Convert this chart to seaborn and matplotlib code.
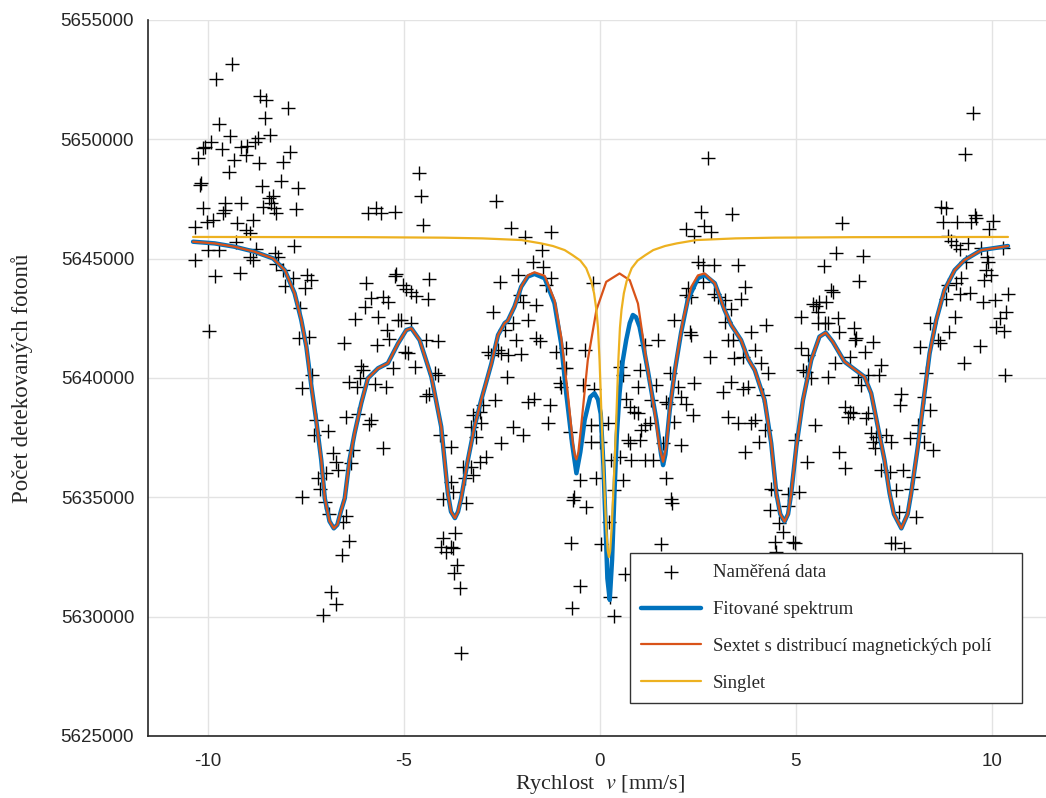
import numpy as np
import pandas as pd
import matplotlib
matplotlib.use('Agg')
import matplotlib.pyplot as plt
import seaborn as sns

# measured Mossbauer spectrum (velocity in mm/s, detected photon counts)
velocity = [
    -9.39, -9.80, -8.66, -8.51, -7.96, -8.54, -9.72, -9.44, -8.41, -9.92,
    -10.07, -10.13, -9.64, -9.15, -9.00, -8.81, -8.72, -7.92, -10.26, -9.34,
    -9.02, -8.70, -8.09, -9.47, -8.13, -10.21, -10.19, -8.61, -7.70, -8.34,
    -8.45, -8.38, -8.60, -8.32, -8.26, -9.56, -9.56, -9.62, -9.15, -10.13,
    -7.76, -10.34, -10.02, -9.87, -9.25, -8.85, -9.02, -8.94, -5.92, -5.71,
    -5.59, -5.22, -4.62, -4.57, -4.51, -9.29, -10.00, -9.72, -7.81, -8.77,
    -8.92, -8.30, -8.21,
    -2.66, -2.26, -1.90, -1.24, -1.47, 2.76, 2.58, 3.37, 2.19, 2.40, 2.65, 2.84,
    9.53, 9.32, 6.18, 8.71, 8.82, 8.75, 9.11, 9.46, 9.56, 9.60,
    10.03, 9.92, 8.88, 8.96, 9.09, 9.18, 9.39, 9.73, 10.28, 6.01,
    6.71, 9.88,
    -10.34, -9.83, -9.19, -9.975, -8.85, -8.26, -8.09, -7.83, -8.03, -7.47,
    -7.37, -7.53, -7.64, -7.69, -7.43, -7.35, -7.60, -7.24, -7.30, -6.94,
    -6.81, -6.73, -6.68, -7.19, -6.98, -7.14, -7.60, -6.47, -6.16, -5.85,
    -5.88, -5.54, -6.30, -6.35, -6.53, -6.24, -5.96, -6.00, -5.85, -5.54,
    -5.41, -5.66, -5.44, -5.37, -5.68, -5.24, -5.20, -5.03, -4.94, -4.81,
    -4.69, -4.39, -4.35, -5.15, -5.07, -4.81, -4.98, -4.90, -4.73, -4.43,
    -4.13, -6.09, -6.05, -6.13, -6.19, -6.41, -5.75, -5.45, -5.28, -4.22,
    -4.13, -4.43, -4.35, -4.09, -4.01,
    -1.71, -1.45, -2.09, -2.56, -1.24, -1.37, -2.05, -1.96, -1.62, -2.73,
    -2.22, -1.84, -2.43, -2.13, -1.62, -1.54, -2.86, -2.77, -2.60, -2.52,
    -2.35, -2.01, -1.11, -0.86, -0.39, -0.18, -0.94, -0.86, -2.36, -1.03,
    -0.99, -0.43, -0.14, -2.69, -2.99, -3.07, -3.24, -3.03, -1.84, -1.68,
    -1.28, -1.33, -2.22, -1.96, -2.52, -3.15, -3.28, -2.90, -3.07, -3.28,
    -3.50, -3.24, -3.45, -3.79, -3.79, -3.75, -0.77, -0.22, -0.01, 0.20,
    -0.22, -0.01, -0.65, -0.52, -0.09, 0.29, 0.50, 0.59, 0.37, 0.50,
    0.59, 1.01, 0.97, 1.44, 1.48, 1.14, 0.67, 0.76, 0.88, 0.97,
    0.71, 0.76, 1.01, 0.80, 1.14, 1.35, 1.14, 1.27, 1.05, 1.31,
    1.69, 1.73, 1.61, 1.69, 1.82, 1.99, 2.07, 2.20, 2.37, 1.90,
    2.07, 1.78, 1.90, 2.41, 2.31, 2.33, 2.33, 2.24, 2.20, 2.63,
    2.50, 2.63, 2.92, 3.52, 2.92, 3.01, 3.18, 3.35, 3.60, 3.69,
    3.18, 3.26, 3.39, 3.43, 3.65, 2.80, 3.35, 3.14, 3.65, 3.26,
    3.52, 3.69,
    5.71, 6.62, 5.90, 5.94, 5.43, 5.52, 5.60, 5.77, 5.56, 5.14,
    4.24, 3.86, 5.56, 5.73, 5.82, 6.07, 6.11, 6.48, 6.54, 6.50,
    6.96, 6.75, 5.14, 5.31, 6.37, 5.99, 7.18, 7.13, 3.95, 4.12,
    4.29, 5.18, 5.26, 5.39, 5.82, 6.58, 6.67, 6.84, 3.78, 4.16,
    7.69, 7.65, 6.24, 6.37, 6.45, 6.33, 6.84, 6.79, 8.41, 3.95,
    3.86, 4.20, 4.07, 4.97, 5.48, 6.92, 7.05, 6.96, 7.01, 7.30,
    7.43, 7.90, 8.11, 8.11, 8.28, 8.50, 6.11, 6.24, 5.29, 7.18,
    7.39, 7.73, 7.99, 7.56, 7.94, 4.37, 4.46, 5.09, 4.80, 8.88,
    9.09, 9.22, 9.43, 9.18, 8.84, 9.81, 9.98, 9.86, 9.90, 9.35,
    9.77, 10.07, 10.41, 10.37, 10.20, 10.11, 10.32, 9.05, 8.90, 8.62,
    8.67, 8.41, 8.16, 9.69, 9.29, 10.34, 8.33, 8.28,
    -7.02, -6.90, -6.47, -6.56, -6.39, -6.57, -6.87, -6.73, -7.07, -4.01,
    -4.05, -3.92,
    -3.41, -3.69, -3.79, -3.75, -3.64, -3.72, -3.58, -3.55, -0.35, -0.75,
    -0.50, -0.71, 0.02, 0.23, 0.63, 0.26, 0.36, 1.84, 1.55, -0.69,
    4.33, 4.80, 4.58, 4.67, 4.46, 4.92, 4.97, 4.50, 7.64, 8.07,
    7.43, 7.52, 7.77,
]
counts = [
    5653140, 5652520, 5651820, 5651650, 5651330, 5650880, 5650630, 5650150, 5650180, 5649900,
    5649690, 5649620, 5649580, 5649690, 5649720, 5649900, 5650070, 5649480, 5649230, 5649130,
    5649340, 5649020, 5649040, 5648640, 5648250, 5648090, 5648160, 5648060, 5647950, 5647640,
    5647530, 5647320, 5647180, 5647110, 5646900, 5647350, 5647040, 5646930, 5647320, 5647140,
    5647080, 5646310, 5646550, 5646620, 5646510, 5646620, 5646200, 5646060, 5646930, 5647110,
    5646900, 5646970, 5648580, 5647630, 5646420, 5645710, 5645360, 5645360, 5645530, 5645390,
    5645060, 5645220, 5645060,
    5647420, 5646270, 5645920, 5646130, 5645360, 5649230, 5646940, 5646870, 5646230, 5645950, 5646380, 5646130,
    5651120, 5649390, 5646480, 5647150, 5647140, 5646550, 5646550, 5646520, 5646830, 5646690,
    5646590, 5646230, 5645950, 5645750, 5645570, 5645390, 5645670, 5645430, 5645460, 5645220,
    5645110, 5645060,
    5644940, 5644280, 5644380, 5641960, 5644940, 5644770, 5644520, 5644170, 5643850, 5644310,
    5644100, 5643750, 5642940, 5641660, 5641700, 5640120, 5639600, 5638230, 5637610, 5637790,
    5636840, 5636490, 5636140, 5635790, 5636000, 5635330, 5635000, 5638370, 5638490, 5638260,
    5638070, 5637050, 5637000, 5636420, 5641450, 5642470, 5643990, 5642980, 5643360, 5643400,
    5643190, 5642570, 5642010, 5641620, 5641380, 5644270, 5644350, 5643890, 5643710, 5643610,
    5643430, 5643330, 5644130, 5642430, 5642450, 5642310, 5641100, 5641030, 5640440, 5641590,
    5641560, 5640500, 5640330, 5639980, 5639630, 5639840, 5639740, 5639630, 5640400, 5640190,
    5640120, 5639240, 5639350, 5637610, 5634950,
    5644870, 5644660, 5644310, 5644030, 5644170, 5643890, 5643470, 5643190, 5643050, 5642770,
    5642290, 5642430, 5642010, 5641590, 5641660, 5641560, 5641100, 5640960, 5641170, 5641030,
    5640960, 5641000, 5641100, 5641240, 5641170, 5643960, 5640400, 5640400, 5640050, 5639770,
    5639630, 5639700, 5639560, 5639070, 5638860, 5638580, 5638440, 5638100, 5639000, 5639140,
    5638860, 5638100, 5637960, 5637610, 5637280, 5637540, 5637960, 5636700, 5636490, 5636280,
    5636280, 5635930, 5635790, 5637120, 5635650, 5635230, 5637750, 5638030, 5638030, 5638100,
    5637330, 5637330, 5635020, 5635720, 5635790, 5636560, 5636700, 5635720, 5635300, 5640470,
    5640120, 5640330, 5639630, 5639700, 5641590, 5641380, 5639140, 5638790, 5638580, 5638520,
    5637400, 5637260, 5637400, 5636560, 5636560, 5636560, 5638030, 5638100, 5637820, 5639070,
    5639000, 5638930, 5637260, 5635790, 5634950, 5639630, 5639210, 5638930, 5638440, 5638170,
    5637190, 5640190, 5642430, 5639800, 5641940, 5641800, 5643400, 5643750, 5643470, 5644030,
    5644870, 5644730, 5644730, 5644730, 5643540, 5643400, 5643260, 5642910, 5643330, 5643820,
    5642360, 5641590, 5641590, 5640820, 5640890, 5640890, 5639840, 5639420, 5639560, 5638380,
    5638100, 5636910,
    5644690, 5644060, 5643680, 5643610, 5643120, 5643010, 5643190, 5643190, 5642770, 5642570,
    5642240, 5641940, 5642290, 5642290, 5642290, 5642500, 5641940, 5642080, 5641660, 5641590,
    5641520, 5641100, 5641240, 5640960, 5640860, 5640610, 5640540, 5640120, 5641170, 5640610,
    5640190, 5640330, 5640260, 5639980, 5640050, 5640050, 5639700, 5640120, 5639630, 5639280,
    5639350, 5638860, 5638790, 5638580, 5638520, 5638380, 5638520, 5638310, 5638650, 5638240,
    5638100, 5637820, 5637330, 5637400, 5638030, 5637680, 5637540, 5637330, 5637050, 5637610,
    5637330, 5637470, 5638030, 5637680, 5637330, 5636980, 5636910, 5636210, 5636490, 5636140,
    5636070, 5636140, 5635860, 5635300, 5635330, 5635370, 5635300, 5635230, 5635160, 5643890,
    5643960, 5644170, 5643580, 5643540, 5643330, 5644100, 5644310, 5644520, 5644870, 5644870,
    5643190, 5643260, 5643540, 5642770, 5642500, 5642150, 5641980, 5642570, 5641940, 5641590,
    5641450, 5642290, 5641280, 5641340, 5640640, 5640120, 5640190, 5639210,
    5634820, 5634300, 5634220, 5633980, 5633190, 5632590, 5631050, 5630520, 5630070, 5633280,
    5632930, 5632720,
    5634750, 5633520, 5632930, 5632860, 5632170, 5631840, 5631190, 5628460, 5634580, 5633070,
    5631290, 5630350, 5633050, 5633980, 5631790, 5630810, 5630030, 5634750, 5633050, 5634890,
    5634470, 5634640, 5633910, 5633560, 5633140, 5633140, 5633100, 5632720, 5634400, 5634190,
    5633100, 5633100, 5632860,
]

# fitted spectrum
fit_v = [-10.38, -9.83, -9.32, -8.81, -8.34, -8.04, -7.79, -7.62, -7.49, -7.36,
         -7.24, -7.11, -7.02, -6.90, -6.79, -6.70, -6.60, -6.51, -6.39, -6.26,
         -6.09, -5.92, -5.66, -5.41, -5.15, -4.94, -4.81, -4.60, -4.30, -4.05,
         -3.88, -3.80, -3.70, -3.62, -3.54, -3.37, -3.20, -3.03, -2.77, -2.60,
         -2.43, -2.35, -2.18, -2.01, -1.84, -1.67, -1.41, -1.16, -0.99, -0.86,
         -0.71, -0.60, -0.50, -0.39, -0.25, -0.14, -0.05, 0.02, 0.09, 0.14,
         0.19, 0.25, 0.31, 0.37, 0.43, 0.50, 0.58, 0.67, 0.76, 0.84,
         0.92, 1.01, 1.10, 1.22, 1.44, 1.56, 1.61, 1.67, 1.78, 1.91,
         2.07, 2.24, 2.50, 2.67, 2.93, 3.18, 3.35, 3.60, 3.78, 3.95,
         4.20, 4.37, 4.50, 4.60, 4.71, 4.80, 4.88, 5.01, 5.18, 5.39,
         5.60, 5.76, 5.94, 6.24, 6.58, 6.75, 6.92, 7.09, 7.26, 7.39,
         7.50, 7.69, 7.85, 7.94, 8.11, 8.28, 8.41, 8.58, 8.79, 9.05,
         9.30, 9.73, 10.41]
fit_n = [5645710, 5645640, 5645500, 5645290, 5645010, 5644520, 5643550, 5642430, 5641310, 5639640,
         5638240, 5636560, 5634960, 5634000, 5633700, 5633850, 5634470, 5634960, 5636560, 5637680,
         5638940, 5639990, 5640410, 5640620, 5641450, 5642010, 5642080, 5641590, 5640050, 5637960,
         5635180, 5634400, 5634130, 5634400, 5634960, 5636560, 5637960, 5639070, 5640600, 5641800,
         5642300, 5642400, 5642990, 5643820, 5644250, 5644360, 5644180, 5643130, 5641450, 5639360,
         5637260, 5636010, 5636900, 5638240, 5639200, 5639360, 5639100, 5638500, 5636300, 5634000,
         5631600, 5630700, 5632400, 5635170, 5637600, 5639360, 5640700, 5641590, 5642300, 5642640,
         5642550, 5642150, 5641400, 5640330, 5638240, 5636800, 5636350, 5636800, 5638650, 5640300,
         5641900, 5643270, 5644180, 5644320, 5643970, 5642850, 5642220, 5641590, 5640800, 5640330,
         5639080, 5637260, 5635170, 5634300, 5633980, 5634300, 5635170, 5637120, 5639080, 5640750,
         5641730, 5641900, 5641520, 5640680, 5640260, 5640050, 5639360, 5637960, 5636560, 5635170,
         5634300, 5633700, 5634300, 5635170, 5637120, 5639360, 5641030, 5642430, 5643690, 5644520,
         5644940, 5645360, 5645530]

# sextet with hyperfine field distribution
sextet_v = [-10.38, -9.83, -9.32, -8.81, -8.34, -8.04, -7.79, -7.62, -7.49, -7.36,
            -7.24, -7.11, -7.02, -6.90, -6.79, -6.70, -6.60, -6.51, -6.39, -6.26,
            -6.09, -5.92, -5.66, -5.41, -5.15, -4.94, -4.81, -4.60, -4.30, -4.05,
            -3.88, -3.80, -3.70, -3.62, -3.54, -3.37, -3.20, -3.03, -2.77, -2.60,
            -2.43, -2.35, -2.18, -2.01, -1.84, -1.67, -1.41, -1.16, -0.99, -0.82,
            -0.69, -0.64, -0.60, -0.55, -0.48, -0.31, -0.09, 0.16, 0.50, 0.76,
            0.97, 1.18, 1.39, 1.52, 1.61, 1.69, 1.78, 1.95, 2.12, 2.33,
            2.50, 2.67, 2.93, 3.18, 3.35, 3.60, 3.78, 3.95, 4.20, 4.37,
            4.50, 4.60, 4.71, 4.80, 4.88, 5.01, 5.18, 5.39, 5.60, 5.76,
            5.94, 6.24, 6.58, 6.75, 6.92, 7.09, 7.26, 7.39, 7.50, 7.69,
            7.85, 7.94, 8.11, 8.28, 8.41, 8.58, 8.79, 9.05, 9.30, 9.73,
            10.41]
sextet_n = [5645710, 5645640, 5645500, 5645290, 5645010, 5644520, 5643550, 5642430, 5641310, 5639640,
            5638240, 5636560, 5634960, 5634000, 5633700, 5633850, 5634470, 5634960, 5636560, 5637680,
            5638940, 5639990, 5640410, 5640620, 5641450, 5642010, 5642080, 5641590, 5640050, 5637960,
            5635180, 5634400, 5634130, 5634400, 5634960, 5636560, 5637960, 5639070, 5640600, 5641800,
            5642300, 5642400, 5642990, 5643820, 5644300, 5644430, 5644280, 5643260, 5641730, 5639350,
            5637260, 5636750, 5636590, 5636900, 5637960, 5640750, 5642850, 5644030, 5644380, 5644100,
            5643120, 5640750, 5638650, 5637100, 5636490, 5637100, 5638650, 5640750, 5642430, 5643820,
            5644300, 5644380, 5643970, 5642850, 5642220, 5641590, 5640800, 5640330, 5639080, 5637260,
            5635170, 5634300, 5633980, 5634300, 5635170, 5637120, 5639080, 5640750, 5641730, 5641900,
            5641520, 5640680, 5640260, 5640050, 5639360, 5637960, 5636560, 5635170, 5634300, 5633700,
            5634300, 5635170, 5637120, 5639360, 5641030, 5642430, 5643690, 5644520, 5644940, 5645360,
            5645530]

# singlet
singlet_v = [-10.38, -6.0, -4.0, -3.0, -2.0, -1.5, -1.2, -0.9, -0.7, -0.5,
             -0.35, -0.22, -0.15, -0.09, -0.05, -0.01, 0.05, 0.09, 0.12, 0.16,
             0.20, 0.23, 0.26, 0.30, 0.34, 0.37, 0.41, 0.47, 0.51, 0.55,
             0.61, 0.68, 0.81, 0.96, 1.16, 1.36, 1.66, 1.96, 2.46, 3.46,
             4.46, 6.46, 10.41]
singlet_n = [5645910, 5645900, 5645880, 5645850, 5645780, 5645640, 5645530, 5645360, 5645150, 5644920,
             5644600, 5644050, 5643550, 5642850, 5642100, 5640750, 5637960, 5636300, 5635170, 5633700,
             5632750, 5632500, 5632750, 5633700, 5635170, 5636300, 5637960, 5640750, 5642100, 5642850,
             5643550, 5644050, 5644600, 5644920, 5645150, 5645360, 5645530, 5645640, 5645780, 5645850,
             5645880, 5645900, 5645910]

x_ticks = [-10, -5, 0, 5, 10]
y_ticks = [5625000, 5630000, 5635000, 5640000, 5645000, 5650000, 5655000]

sns.set_style('white')
plt.rcParams['font.family'] = ['Liberation Serif', 'DejaVu Serif']
plt.rcParams['mathtext.fontset'] = 'stix'
plt.rcParams['axes.unicode_minus'] = False

measured = pd.DataFrame({'v': velocity, 'n': counts})
fit = pd.DataFrame({'v': fit_v, 'n': fit_n})
sextet = pd.DataFrame({'v': sextet_v, 'n': sextet_n})
singlet = pd.DataFrame({'v': singlet_v, 'n': singlet_n})

fig = plt.figure(figsize=(10.46, 7.98), dpi=100)
ax = fig.add_axes([148 / 1046, 62 / 798, 898 / 1046, 716 / 798])

sns.scatterplot(data=measured, x='v', y='n', marker='+', color='black', s=90,
                linewidth=1.0, label='Naměřená data', ax=ax, zorder=2)
sns.lineplot(data=fit, x='v', y='n', sort=False, estimator=None, color='#0072BD',
             linewidth=3.2, label='Fitované spektrum', ax=ax, zorder=3)
sns.lineplot(data=sextet, x='v', y='n', sort=False, estimator=None, color='#D95319',
             linewidth=1.6, label='Sextet s distribucí magnetických polí', ax=ax, zorder=4)
sns.lineplot(data=singlet, x='v', y='n', sort=False, estimator=None, color='#EDB120',
             linewidth=1.6, label='Singlet', ax=ax, zorder=5)

ax.set_xlim(-11.53, 11.38)
ax.set_ylim(5625000, 5655000)
ax.set_xticks(x_ticks)
ax.set_yticks(y_ticks)
ax.ticklabel_format(axis='y', style='plain', useOffset=False)
ax.grid(True, color='#e3e3e3', linewidth=1.0)
ax.set_axisbelow(True)

for side in ['top', 'right']:
    ax.spines[side].set_visible(False)
for side in ['left', 'bottom']:
    ax.spines[side].set_color('#262626')
    ax.spines[side].set_linewidth(1.2)

ax.tick_params(axis='x', direction='in', length=6, width=1.2, color='#262626', pad=12)
ax.tick_params(axis='y', direction='inout', length=10, width=1.2, color='#262626', pad=5)
for lab in ax.get_xticklabels() + ax.get_yticklabels():
    lab.set_family('Liberation Sans')
    lab.set_fontsize(13.5)
    lab.set_color('#262626')

ax.set_xlabel('Rychlost  $v$ [mm/s]', fontsize=16)
ax.set_ylabel('Počet detekovaných fotonů', fontsize=16.5)
ax.xaxis.set_label_coords(0.503, -0.052)
ax.yaxis.set_label_coords(-0.128, 0.5)

# legend box stretched to the same width as in the original figure
leg = ax.legend(loc='lower left', bbox_to_anchor=(0.537, 0.046, 0.4365, 0.2),
                mode='expand', fontsize=13.5,
                frameon=True, fancybox=False, edgecolor='#333333', framealpha=1,
                handlelength=3.2, handletextpad=0.6, labelspacing=1.05,
                borderpad=0.6, borderaxespad=0)
leg.get_frame().set_linewidth(1.0)

fig.savefig('out.png', dpi=100)
